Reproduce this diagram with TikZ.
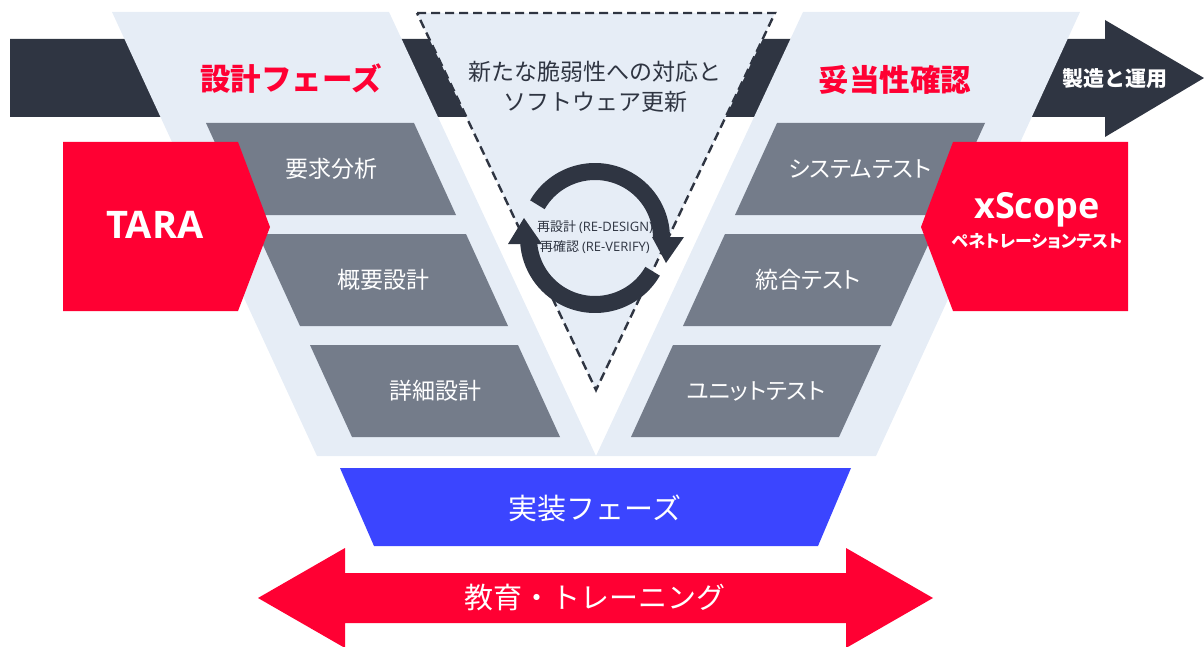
\documentclass[tikz,border=0pt]{standalone}
\usepackage{fontspec}
\setmainfont{Noto Sans CJK JP}
\newfontfamily\jppalt{Noto Sans CJK JP}[RawFeature=+palt]
\newfontfamily\latinfont{Open Sans}
\usetikzlibrary{arrows.meta}
\definecolor{navy}{HTML}{2F3542}
\definecolor{lightbg}{HTML}{E6EDF6}
\definecolor{boxgray}{HTML}{747C8A}
\definecolor{hotred}{HTML}{FF0033}
\definecolor{implblue}{HTML}{3B45FF}
\tikzset{
  dashline/.style={draw=navy, line width=2.4pt, dash pattern=on 9pt off 5pt},
  boxlabel/.style={text=white, font=\jppalt\fontsize{23}{26}\selectfont, inner sep=0pt},
  title/.style={text=hotred, font=\bfseries\fontsize{30.5}{34}\selectfont, inner sep=0pt},
  bigwhite/.style={text=white, font=\fontsize{29}{32}\selectfont, inner sep=0pt},
  cyctext/.style={text=navy, font=\fontsize{13}{15}\selectfont, inner sep=0pt},
}
\begin{document}
\begin{tikzpicture}[x=1pt,y=-1pt]
\useasboundingbox (0,0) rectangle (1204,647);
% dark process band with arrow head
\fill[navy] (10,39) -- (1105,39) -- (1105,20) -- (1204,78) -- (1105,137) -- (1105,117) -- (10,117) -- cycle;
% light V arms
\fill[lightbg] (112,12) -- (389,12) -- (596,456) -- (317,456) -- cycle;
\fill[lightbg] (803,12) -- (1080,12) -- (876,456) -- (596,456) -- cycle;
% dashed triangle
\draw[dashline, fill=lightbg] (417,13) -- (775,13) -- (596,390) -- cycle;
% gray boxes left
\fill[boxgray] (206,123) -- (414,123) -- (456,215) -- (248,215) -- cycle;
\fill[boxgray] (258,234) -- (466,234) -- (508,326) -- (300,326) -- cycle;
\fill[boxgray] (310,345) -- (518,345) -- (560,437) -- (352,437) -- cycle;
% gray boxes right
\fill[boxgray] (777,123) -- (985,123) -- (943,215) -- (735,215) -- cycle;
\fill[boxgray] (725,234) -- (933,234) -- (891,326) -- (683,326) -- cycle;
\fill[boxgray] (673,345) -- (881,345) -- (839,437) -- (631,437) -- cycle;
% TARA and xScope
\fill[hotred] (63,142) -- (238,142) -- (270,227) -- (238,311) -- (63,311) -- cycle;
\fill[hotred] (1128,142) -- (953,142) -- (921,227) -- (953,311) -- (1128,311) -- cycle;
% cycle arrows
\draw[navy, line width=17pt] ([shift={(-150:66.5)}]595,238) arc[start angle=-150, end angle=0, radius=66.5];
\draw[navy, line width=17pt] ([shift={(30:66.5)}]595,238) arc[start angle=30, end angle=180, radius=66.5];
\fill[navy] (652,237) -- (684,237) -- (666,263) -- cycle;
\fill[navy] (508,244) -- (542,244) -- (524,218) -- cycle;
% implementation phase
\fill[implblue] (340,468) -- (851,468) -- (818,546) -- (374,546) -- cycle;
% training double arrow
\fill[hotred] (258,598) -- (345,548) -- (345,573) -- (846,573) -- (846,548) -- (933,598) -- (846,648) -- (846,623) -- (345,623) -- (345,648) -- cycle;
% texts
\node[title] (design) at (291,79) {設計フェーズ};
\node[title] (valid) at (895,80) {妥当性確認};
\node[text=white, font=\bfseries\fontsize{21}{24}\selectfont, inner sep=0pt] (ops) at (1115,79) {製造と運用};
\node[text=navy, font=\fontsize{23}{30}\selectfont, align=center, inner sep=0pt] (vuln) at (595,87) {新たな脆弱性への対応と\\ソフトウェア更新};
\node[boxlabel] (req) at (331,169) {要求分析};
\node[boxlabel] (basic) at (383,280) {概要設計};
\node[boxlabel] (detail) at (435,391) {詳細設計};
\node[boxlabel] (sys) at (860,169) {システムテスト};
\node[boxlabel] (integ) at (808,280) {統合テスト};
\node[boxlabel] (unit) at (756,391) {ユニットテスト};
\node[text=white, font=\latinfont\bfseries\fontsize{38}{42}\selectfont, inner sep=0pt] (tara) at (155,225) {TARA};
\node[text=white, font=\latinfont\bfseries\fontsize{36}{40}\selectfont, inner sep=0pt] (xscope) at (1037,210) {xScope};
\node[text=white, font=\jppalt\bfseries\fontsize{17}{20}\selectfont, inner sep=0pt] (pentest) at (1037,241) {ペネトレーションテスト};
\node[cyctext] (redesign) at (595,227) {再設計 {\latinfont (RE-DESIGN)}};
\node[cyctext] (reverify) at (595,247) {再確認 {\latinfont (RE-VERIFY)}};
\node[bigwhite] (impl) at (595,508) {実装フェーズ};
\node[bigwhite] (train) at (595,598) {教育・トレーニング};
\end{tikzpicture}
\end{document}
